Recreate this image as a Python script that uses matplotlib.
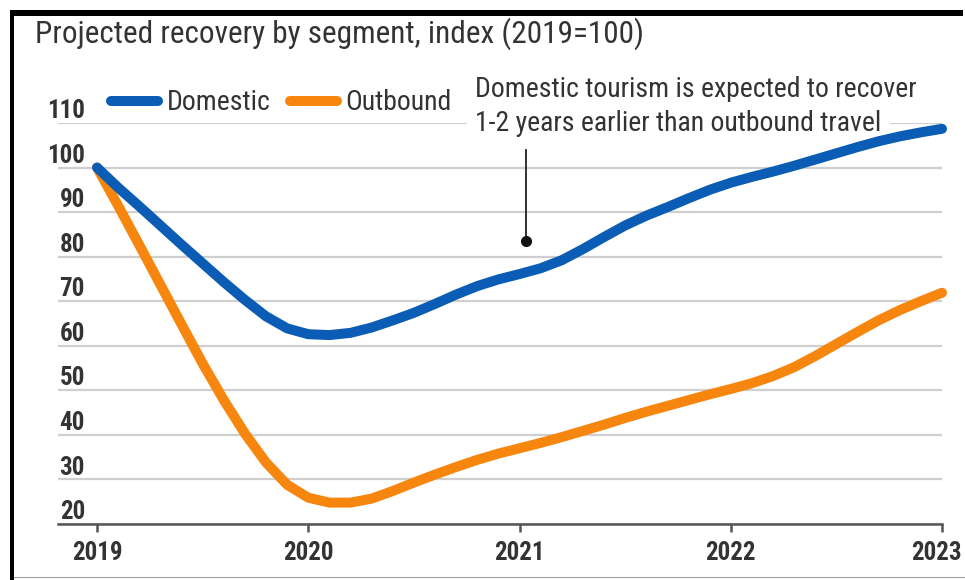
import numpy as np
import matplotlib.pyplot as plt
from matplotlib.patches import Rectangle
from matplotlib.transforms import offset_copy

# Projected recovery by segment, index (2019=100)
years = [2019, 2020, 2021, 2022, 2023]
yticks = [20, 30, 40, 50, 60, 70, 80, 90, 100, 110]

# values every 0.1 year
t = np.linspace(2019, 2023, 41)
domestic = [100, 95.5, 91.3, 87.0, 82.7, 78.5, 74.3, 70.3, 66.6, 63.9,
            62.6, 62.4, 62.9, 64.1, 65.7, 67.4, 69.4, 71.5, 73.4, 74.9,
            76.1, 77.4, 79.2, 81.7, 84.4, 87.0, 89.2, 91.1, 93.1, 95.0,
            96.6, 97.9, 99.1, 100.4, 101.8, 103.2, 104.6, 105.9, 107.0, 107.9,
            108.7]
outbound = [100, 91.4, 82.6, 73.7, 64.8, 56.0, 47.8, 40.3, 33.8, 28.8,
            25.9, 24.8, 24.8, 25.7, 27.4, 29.3, 31.1, 32.8, 34.4, 35.8,
            37.0, 38.2, 39.5, 40.9, 42.3, 43.8, 45.2, 46.5, 47.8, 49.1,
            50.3, 51.6, 53.2, 55.2, 57.7, 60.4, 63.1, 65.7, 68.0, 70.0,
            71.9]

note_text = ["Domestic tourism is expected to recover",
             "1-2 years earlier than outbound travel"]
note_x = 2020.79
note_point = (2021.03, 83.6)
note_top = 104

blue = '#0a5cb4'
orange = '#f7860f'
txt = '#333333'
cond = ['Roboto Condensed', 'Roboto', 'DejaVu Sans']

fig = plt.figure(figsize=(9.65, 5.8), dpi=100)
ax = fig.add_axes([58/965, 1-524/580, 884/965, 401/580])

ax.plot(t, domestic, color=blue, lw=7.2, solid_capstyle='round',
        solid_joinstyle='round', clip_on=False, zorder=4, label='Domestic')
ax.plot(t, outbound, color=orange, lw=7.2, solid_capstyle='round',
        solid_joinstyle='round', clip_on=False, zorder=3, label='Outbound')

ax.set_xlim(2019 - 39/211, 2023)
ax.set_ylim(20, 110)
ax.set_yticks(yticks)
ax.yaxis.grid(True, color='#cfcfcf', lw=1.6)
ax.set_axisbelow(True)
ax.tick_params(axis='y', length=0, labelleft=False)
for s in ['top', 'right', 'left']:
    ax.spines[s].set_visible(False)
ax.spines['bottom'].set_color('#555555')
ax.spines['bottom'].set_linewidth(1.8)

ax.set_xticks(years)
ax.set_xticklabels([str(y) for y in years], fontsize=18, fontweight='bold',
                   color=txt, family=cond)
ax.tick_params(axis='x', length=6, width=1.8, color='#555555', pad=6)
last = ax.get_xticklabels()[-1]
last.set_transform(offset_copy(last.get_transform(), fig=fig, x=-6, units='dots'))

for v in yticks:
    ax.text(0.0305, v + 1.1, str(v), transform=ax.get_yaxis_transform(),
            ha='right', va='baseline', fontsize=18, fontweight='bold',
            color=txt, family=cond)

# annotation
ax.text(note_x, 115.8, note_text[0], ha='left', va='baseline', fontsize=20,
        color=txt, family=cond, clip_on=False)
ax.text(note_x, 108.2, note_text[1], ha='left', va='baseline', fontsize=20,
        color=txt, family=cond, clip_on=False,
        bbox=dict(facecolor='white', edgecolor='none', pad=6))
ax.plot([note_point[0], note_point[0]], [note_top, note_point[1]],
        color='#222222', lw=1.3, zorder=5)
ax.plot(note_point[0], note_point[1], 'o', color='#111111', ms=7, zorder=5)

leg = ax.legend(loc='center left', bbox_to_anchor=(0.06, 1.05), ncol=2,
                frameon=False, borderpad=0, borderaxespad=0, handlelength=1.7,
                handletextpad=0.3, columnspacing=0.7,
                prop={'family': cond, 'size': 20})
for tx in leg.get_texts():
    tx.set_color(txt)

fig.text(35/965, 1-43/580, 'Projected recovery by segment, index (2019=100)',
         fontsize=22.5, color=txt, family=cond, va='baseline', ha='left')

# frame of the original clipping
fig.add_artist(Rectangle((10/965, 1-16/580), 953/965, 6/580,
                         transform=fig.transFigure, color='black', lw=0))
fig.add_artist(Rectangle((10/965, 0), 4/965, 1-10/580,
                         transform=fig.transFigure, color='black', lw=0))
fig.add_artist(Rectangle((14/965, 2/580), 951/965, 1.5/580,
                         transform=fig.transFigure, color='#999999', lw=0))

fig.savefig('out.png', dpi=100)
